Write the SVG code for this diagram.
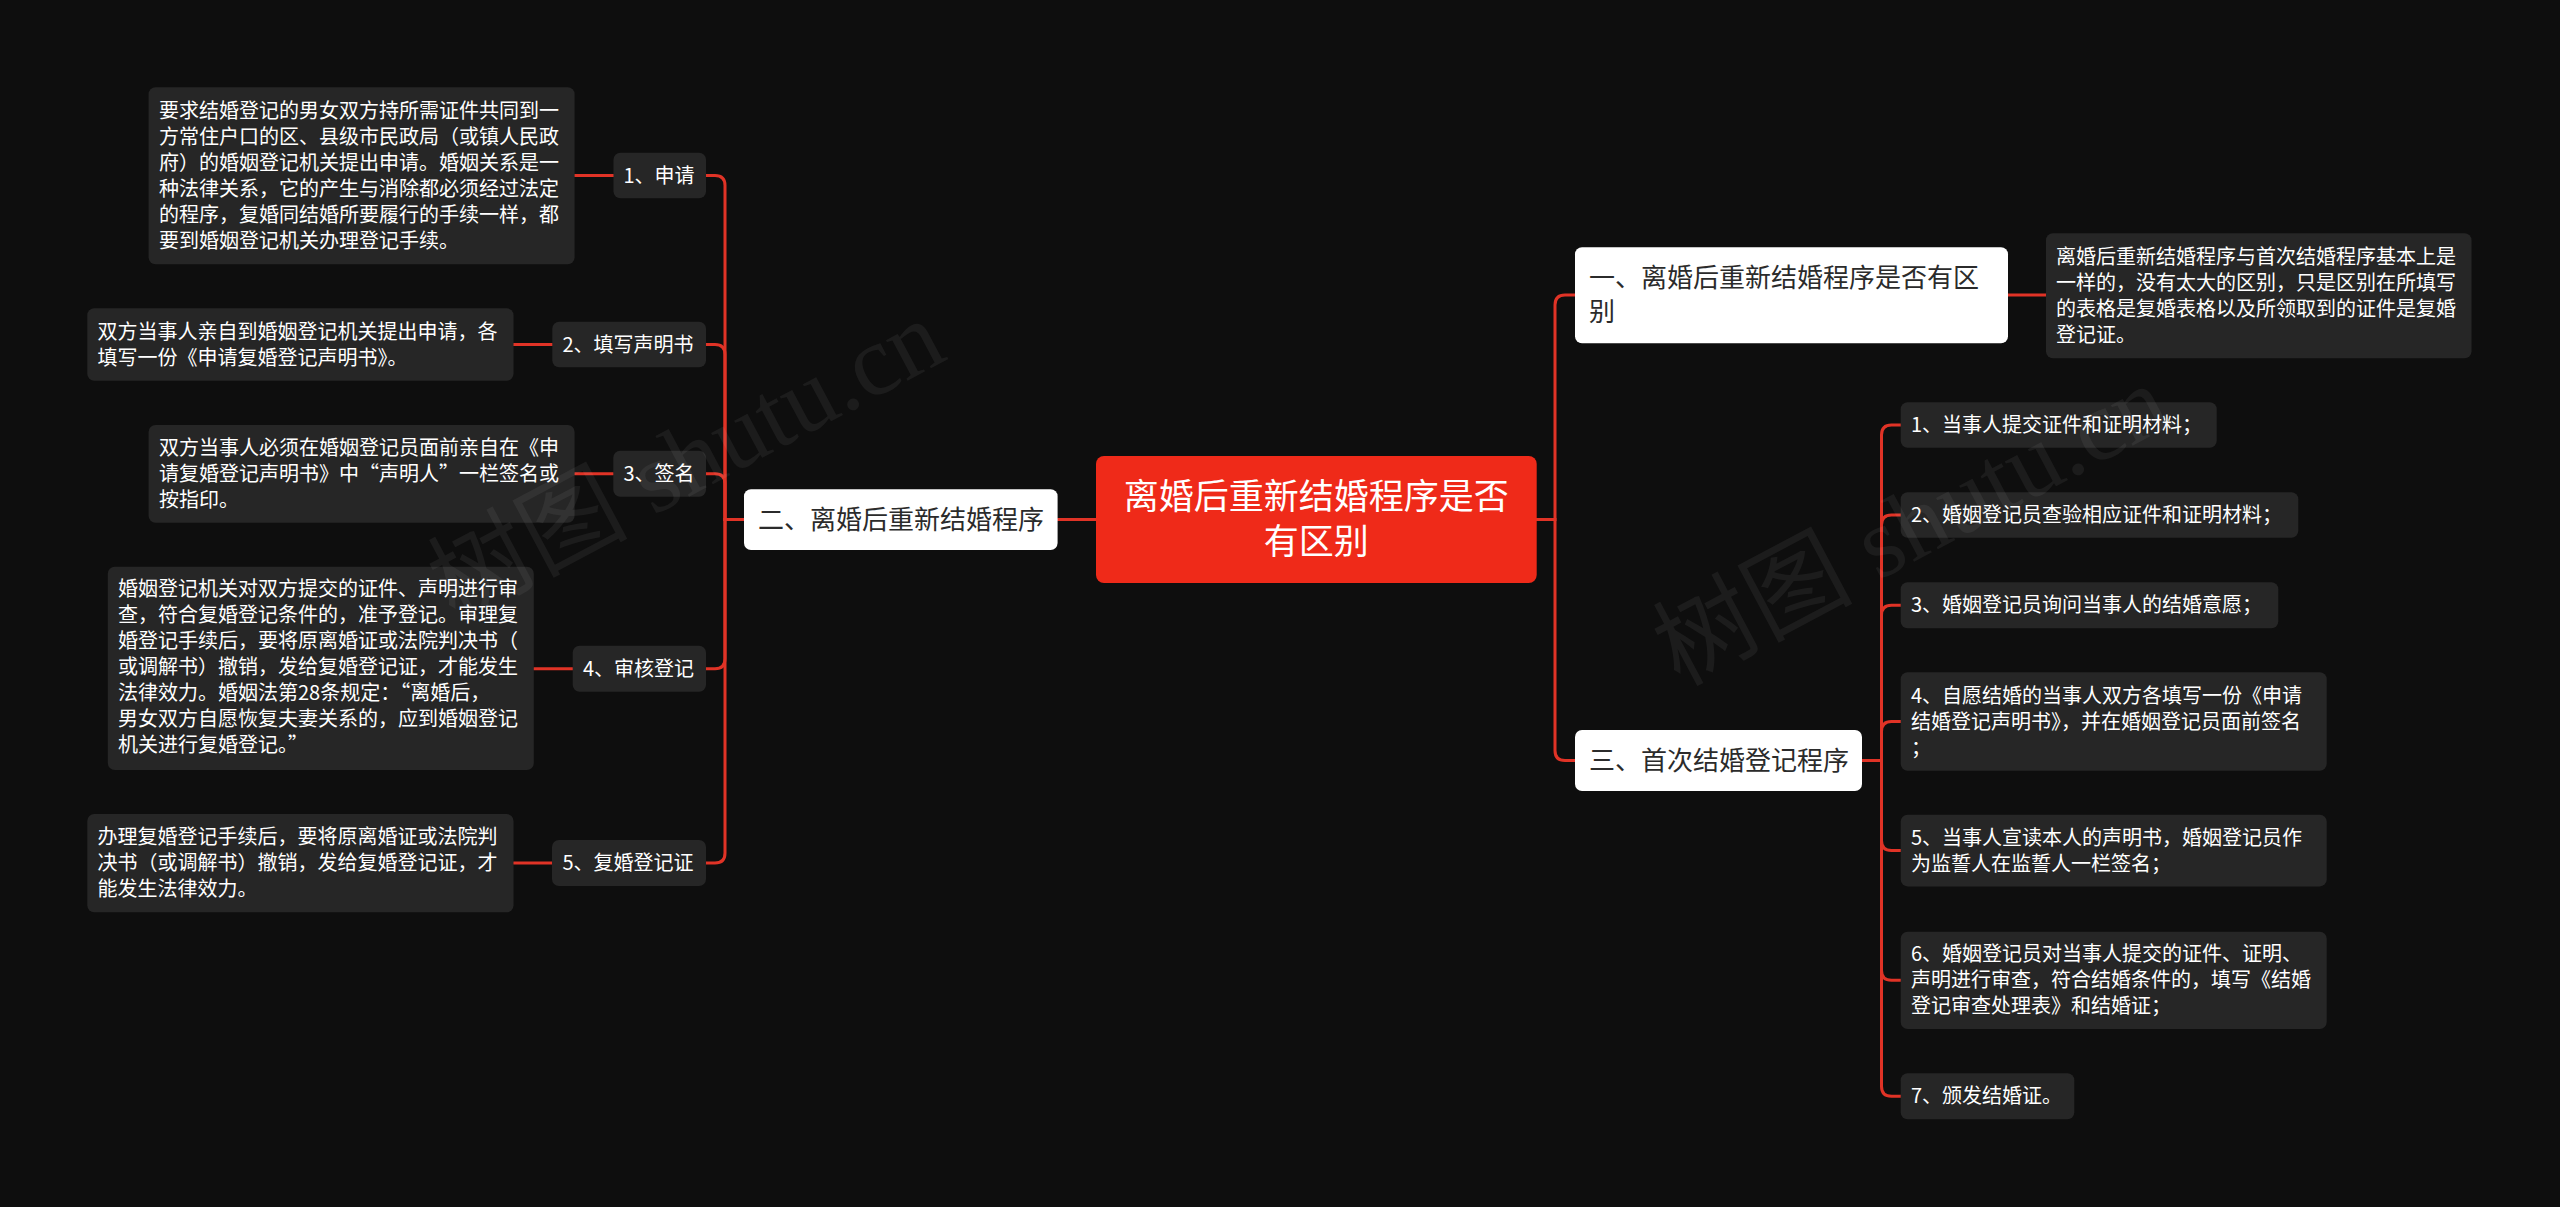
<svg xmlns="http://www.w3.org/2000/svg" width="2560" height="1207" viewBox="0 0 2560 1207">
<style>
text{font-family:"Noto Sans CJK SC","Noto Sans",sans-serif}
.bg{fill:#0e0e0e}
.box{fill:#262626}
.lbl{fill:#262626}
.l2{fill:#ffffff}
.root{fill:#ef2a19}
.t{fill:#ffffff;font-size:20px}
.t2{fill:#2b2b2b;font-size:26px}
.tr{fill:#ffffff;font-size:35px}
.c{fill:none;stroke:#e03326;stroke-width:3;stroke-linecap:round}
.wm{fill:#ffffff;fill-opacity:0.06;font-size:100px;font-family:"Liberation Serif","Noto Sans CJK SC",serif}
</style>
<rect class="bg" x="0" y="0" width="2560" height="1207"/>
<g id="connectors">
<path class="c" d="M1096 519.5H1058"/>
<path class="c" d="M744 519.5H725V185.5Q725 175.5 715 175.5H706"/>
<path class="c" d="M744 519.5H725V354.5Q725 344.5 715 344.5H706"/>
<path class="c" d="M744 519.5H725V483.7Q725 473.7 715 473.7H706"/>
<path class="c" d="M744 519.5H725V658.7Q725 668.7 715 668.7H706"/>
<path class="c" d="M744 519.5H725V853Q725 863 715 863H706"/>
<path class="c" d="M574.7 175.5H613.5"/>
<path class="c" d="M513.5 344.5H552.3"/>
<path class="c" d="M574.7 473.7H613.3"/>
<path class="c" d="M533.8 668.7H572.7"/>
<path class="c" d="M513.5 863H552"/>
<path class="c" d="M1536.7 519.5H1555V305Q1555 295 1565 295H1575"/>
<path class="c" d="M1536.7 519.5H1555V750.5Q1555 760.5 1565 760.5H1575"/>
<path class="c" d="M2008 295H2046"/>
<path class="c" d="M1862 760.5H1881.5V435Q1881.5 425 1891.5 425H1900.7"/>
<path class="c" d="M1862 760.5H1881.5V525Q1881.5 515 1891.5 515H1900.7"/>
<path class="c" d="M1862 760.5H1881.5V615.3Q1881.5 605.3 1891.5 605.3H1900.7"/>
<path class="c" d="M1862 760.5H1881.5V731.5Q1881.5 721.5 1891.5 721.5H1900.7"/>
<path class="c" d="M1862 760.5H1881.5V840.6Q1881.5 850.6 1891.5 850.6H1900.7"/>
<path class="c" d="M1862 760.5H1881.5V970.3Q1881.5 980.3 1891.5 980.3H1900.7"/>
<path class="c" d="M1862 760.5H1881.5V1086.3Q1881.5 1096.3 1891.5 1096.3H1900.7"/>
</g>
<g id="root">
<rect class="root" x="1096" y="456" width="440.7" height="127" rx="8"/>
<text class="tr" text-anchor="middle"><tspan x="1316.3" y="509">离婚后重新结婚程序是否</tspan><tspan x="1316.3" y="554">有区别</tspan></text>
</g>
<g id="n-er">
<rect class="l2" x="744" y="489.3" width="313.6" height="60.7" rx="7"/>
<text class="t2" x="758" y="528.6">二、离婚后重新结婚程序</text>
</g>
<g id="n-yi">
<rect class="l2" x="1575" y="247.3" width="433" height="96" rx="7"/>
<text class="t2"><tspan x="1589" y="287.3">一、离婚后重新结婚程序是否有区</tspan><tspan x="1589" y="321.3">别</tspan></text>
</g>
<g id="n-san">
<rect class="l2" x="1575" y="730" width="287" height="61" rx="7"/>
<text class="t2" x="1589" y="769.5">三、首次结婚登记程序</text>
</g>
<g id="l1">
<rect class="lbl" x="613.5" y="152.7" width="92.5" height="45.6" rx="7"/>
<text class="t" x="623.5" y="182.5">1、申请</text>
</g>
<g id="d1">
<rect class="box" x="148.6" y="87.3" width="426" height="177" rx="7"/>
<text class="t"><tspan x="159" y="117.7">要求结婚登记的男女双方持所需证件共同到一</tspan><tspan x="159" y="143.7">方常住户口的区、县级市民政局（或镇人民政</tspan><tspan x="159" y="169.7">府）的婚姻登记机关提出申请。婚姻关系是一</tspan><tspan x="159" y="195.7">种法律关系，它的产生与消除都必须经过法定</tspan><tspan x="159" y="221.7">的程序，复婚同结婚所要履行的手续一样，都</tspan><tspan x="159" y="247.7">要到婚姻登记机关办理登记手续。</tspan></text>
</g>
<g id="l2">
<rect class="lbl" x="552.3" y="321.7" width="153.7" height="45.6" rx="7"/>
<text class="t" x="562.5" y="351.5">2、填写声明书</text>
</g>
<g id="d2">
<rect class="box" x="87.3" y="308.3" width="426.2" height="72.4" rx="7"/>
<text class="t"><tspan x="97.5" y="338.5">双方当事人亲自到婚姻登记机关提出申请，各</tspan><tspan x="97.5" y="364.5">填写一份《申请复婚登记声明书》。</tspan></text>
</g>
<g id="l3">
<rect class="lbl" x="613.3" y="450.7" width="92.7" height="46" rx="7"/>
<text class="t" x="623.5" y="480.7">3、签名</text>
</g>
<g id="d3">
<rect class="box" x="148.6" y="425" width="426" height="97.7" rx="7"/>
<text class="t"><tspan x="159" y="454.9">双方当事人必须在婚姻登记员面前亲自在《申</tspan><tspan x="159" y="480.9">请复婚登记声明书》中“声明人”一栏签名或</tspan><tspan x="159" y="506.9">按指印。</tspan></text>
</g>
<g id="l4">
<rect class="lbl" x="572.7" y="645.7" width="133.3" height="46" rx="7"/>
<text class="t" x="583" y="675.7">4、审核登记</text>
</g>
<g id="d4">
<rect class="box" x="107.8" y="566.7" width="426" height="203.3" rx="7"/>
<text class="t"><tspan x="118" y="596.4">婚姻登记机关对双方提交的证件、声明进行审</tspan><tspan x="118" y="622.4">查，符合复婚登记条件的，准予登记。审理复</tspan><tspan x="118" y="648.4">婚登记手续后，要将原离婚证或法院判决书（</tspan><tspan x="118" y="674.4">或调解书）撤销，发给复婚登记证，才能发生</tspan><tspan x="118" y="700.4">法律效力。婚姻法第28条规定：“离婚后，</tspan><tspan x="118" y="726.4">男女双方自愿恢复夫妻关系的，应到婚姻登记</tspan><tspan x="118" y="752.4">机关进行复婚登记。”</tspan></text>
</g>
<g id="l5">
<rect class="lbl" x="552" y="840" width="154" height="46" rx="7"/>
<text class="t" x="562.5" y="870">5、复婚登记证</text>
</g>
<g id="d5">
<rect class="box" x="87.3" y="814" width="426.2" height="98.3" rx="7"/>
<text class="t"><tspan x="97.5" y="844.2">办理复婚登记手续后，要将原离婚证或法院判</tspan><tspan x="97.5" y="870.2">决书（或调解书）撤销，发给复婚登记证，才</tspan><tspan x="97.5" y="896.2">能发生法律效力。</tspan></text>
</g>
<g id="d-yi">
<rect class="box" x="2046" y="233.3" width="425.5" height="125" rx="7"/>
<text class="t"><tspan x="2056" y="263.8">离婚后重新结婚程序与首次结婚程序基本上是</tspan><tspan x="2056" y="289.8">一样的，没有太大的区别，只是区别在所填写</tspan><tspan x="2056" y="315.8">的表格是复婚表格以及所领取到的证件是复婚</tspan><tspan x="2056" y="341.8">登记证。</tspan></text>
</g>
<g id="s1">
<rect class="box" x="1900.7" y="402.3" width="316" height="45.4" rx="7"/>
<text class="t" x="1911" y="432">1、当事人提交证件和证明材料；</text>
</g>
<g id="s2">
<rect class="box" x="1900.7" y="492.3" width="397.6" height="45.4" rx="7"/>
<text class="t" x="1911" y="522">2、婚姻登记员查验相应证件和证明材料；</text>
</g>
<g id="s3">
<rect class="box" x="1900.7" y="582.3" width="377.6" height="46" rx="7"/>
<text class="t" x="1911" y="612.3">3、婚姻登记员询问当事人的结婚意愿；</text>
</g>
<g id="s4">
<rect class="box" x="1900.7" y="672.3" width="426" height="98.4" rx="7"/>
<text class="t"><tspan x="1911" y="702.5">4、自愿结婚的当事人双方各填写一份《申请</tspan><tspan x="1911" y="728.5">结婚登记声明书》，并在婚姻登记员面前签名</tspan><tspan x="1911" y="754.5">；</tspan></text>
</g>
<g id="s5">
<rect class="box" x="1900.7" y="814.8" width="426" height="71.6" rx="7"/>
<text class="t"><tspan x="1911" y="844.6">5、当事人宣读本人的声明书，婚姻登记员作</tspan><tspan x="1911" y="870.6">为监誓人在监誓人一栏签名；</tspan></text>
</g>
<g id="s6">
<rect class="box" x="1900.7" y="931.7" width="426" height="97.3" rx="7"/>
<text class="t"><tspan x="1911" y="961.3">6、婚姻登记员对当事人提交的证件、证明、</tspan><tspan x="1911" y="987.3">声明进行审查，符合结婚条件的，填写《结婚</tspan><tspan x="1911" y="1013.3">登记审查处理表》和结婚证；</tspan></text>
</g>
<g id="s7">
<rect class="box" x="1900.7" y="1073.3" width="173.6" height="46" rx="7"/>
<text class="t" x="1911" y="1103.3">7、颁发结婚证。</text>
</g>
<g id="watermark">
<text class="wm" text-anchor="middle" transform="translate(702 490) rotate(-28)">树图 shutu.cn</text>
<text class="wm" text-anchor="middle" transform="translate(1927 555) rotate(-28)">树图 shutu.cn</text>
</g>
</svg>
